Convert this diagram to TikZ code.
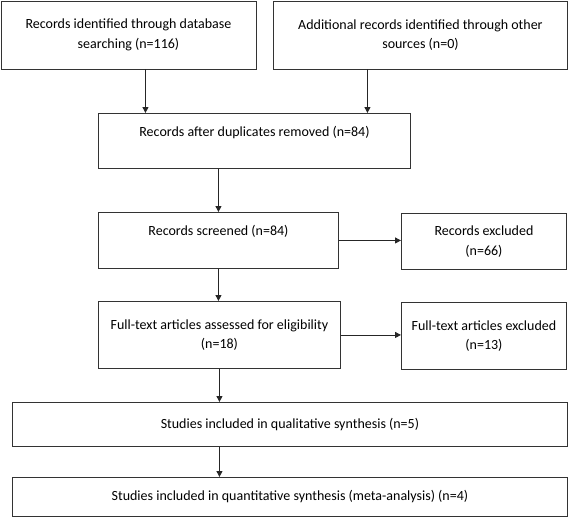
\documentclass[tikz,border=0pt]{standalone}
\usepackage{fontspec}
\setmainfont{Carlito}
\usepackage{tikz}
\usetikzlibrary{arrows.meta}

\begin{document}
\begin{tikzpicture}[x=1pt,y=-1pt,
    box/.style={draw=black!80,line width=0.9pt,anchor=north west,inner sep=0pt,align=center,
      font=\fontsize{14}{19.5}\selectfont},
    arr/.style={draw=black!85,line width=0.9pt,-{Triangle[length=6pt,width=6pt]}}]
    \useasboundingbox (0,0) rectangle (568,517);

    \node[box,minimum width=255pt,minimum height=68pt] (ident) at (0.5,0.5)
      {Records identified through database\\searching (n=116)};
    \node[box,minimum width=294pt,minimum height=68pt] (other) at (273,0.5)
      {Additional records identified through other\\sources (n=0)};
    \node[box,minimum width=312pt,minimum height=55pt] (dup) at (98,113)
      {Records after duplicates removed (n=84)\\\mbox{}};
    \node[box,minimum width=240pt,minimum height=56pt] (screen) at (98,212)
      {Records screened (n=84)\\\mbox{}};
    \node[box,minimum width=165pt,minimum height=56pt] (excl) at (401,213)
      {Records excluded\\(n=66)};
    \node[box,minimum width=242pt,minimum height=67pt] (full) at (98,301)
      {Full-text articles assessed for eligibility\\(n=18)};
    \node[box,minimum width=165pt,minimum height=67pt] (fullexcl) at (401,302)
      {Full-text articles excluded\\(n=13)};
    \node[box,minimum width=555pt,minimum height=44pt] (qual) at (12,402)
      {Studies included in qualitative synthesis (n=5)};
    \node[box,minimum width=555pt,minimum height=39pt] (quant) at (12,477)
      {Studies included in quantitative synthesis (meta-analysis) (n=4)};

    \draw[arr] ([xshift=17pt]ident.south) -- ([xshift=17pt]ident.south |- dup.north);
    \draw[arr] ([xshift=-53pt]other.south) -- ([xshift=-53pt]other.south |- dup.north);
    \draw[arr] (dup.south -| screen.north) -- (screen.north);
    \draw[arr] (screen.south) -- (screen.south |- full.north);
    \draw[arr] (screen.east) -- (screen.east -| excl.west);
    \draw[arr] (full.east) -- (full.east -| fullexcl.west);
    \draw[arr] (full.south) -- (full.south |- qual.north);
    \draw[arr] (qual.south -| full.south) -- (quant.north -| full.south);
  \end{tikzpicture}
\end{document}
